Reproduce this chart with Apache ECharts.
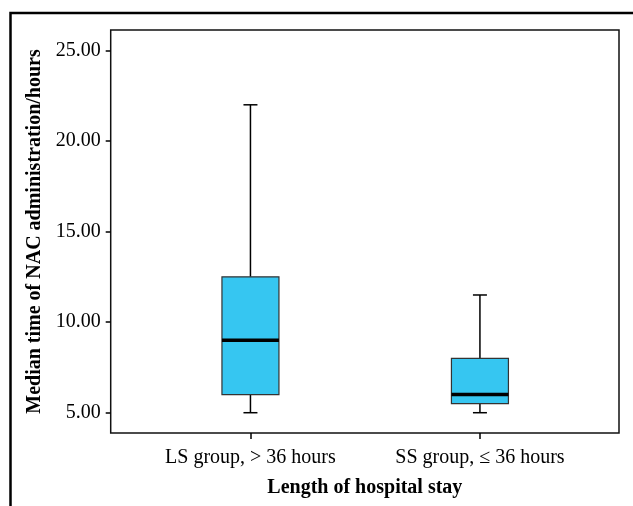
<!DOCTYPE html>
<html>
<head>
<meta charset="utf-8">
<script src="https://cdn.jsdelivr.net/npm/echarts@6/dist/echarts.min.js"></script>
<style>
html,body{margin:0;padding:0;background:#fff;}
#chart{width:633px;height:506px;}
</style>
</head>
<body>
<div id="chart"></div>
<script>
const categories = ['LS group, > 36 hours', 'SS group, \u2264 36 hours'];
const lowerWhisker = [5.0, 5.0];
const q1 = [6.0, 5.5];
const median = [9.0, 6.0];
const q3 = [12.5, 8.0];
const upperWhisker = [22.0, 11.5];
const yTicks = [5, 10, 15, 20, 25];
const xTitle = 'Length of hospital stay';
const yTitle = 'Median time of NAC administration/hours';

const FONT = '"Liberation Serif", "Times New Roman", serif';
const BOX_HALF = 28.5;
const CAP_HALF = 7;

const data = categories.map((c, i) => [i, lowerWhisker[i], q1[i], median[i], q3[i], upperWhisker[i]]);

const chart = echarts.init(document.getElementById('chart'), null, {renderer: 'canvas'});

function renderItem(params, api) {
  const x = api.value(0);
  const pLow = api.coord([x, api.value(1)]);
  const pQ1 = api.coord([x, api.value(2)]);
  const pMed = api.coord([x, api.value(3)]);
  const pQ3 = api.coord([x, api.value(4)]);
  const pHigh = api.coord([x, api.value(5)]);
  const cx = pMed[0];
  const lineStyle = {stroke: '#000', lineWidth: 1.5, fill: null};
  return {
    type: 'group',
    children: [
      {type: 'line', shape: {x1: cx, y1: pQ3[1], x2: cx, y2: pHigh[1]}, style: lineStyle},
      {type: 'line', shape: {x1: cx, y1: pQ1[1], x2: cx, y2: pLow[1]}, style: lineStyle},
      {type: 'line', shape: {x1: cx - CAP_HALF, y1: pHigh[1], x2: cx + CAP_HALF, y2: pHigh[1]}, style: lineStyle},
      {type: 'line', shape: {x1: cx - CAP_HALF, y1: pLow[1], x2: cx + CAP_HALF, y2: pLow[1]}, style: lineStyle},
      {type: 'rect', shape: {x: cx - BOX_HALF, y: pQ3[1], width: BOX_HALF * 2, height: pQ1[1] - pQ3[1]},
        style: {fill: '#36C6F1', stroke: '#333', lineWidth: 1.2}},
      {type: 'line', shape: {x1: cx - BOX_HALF, y1: pMed[1], x2: cx + BOX_HALF, y2: pMed[1]},
        style: {stroke: '#000', lineWidth: 3.5}}
    ]
  };
}

chart.setOption({
  animation: false,
  backgroundColor: '#fff',
  grid: {
    left: 110.7, right: 14, top: 30, bottom: 73,
    show: true, borderColor: '#111', borderWidth: 1.5, backgroundColor: 'transparent',
    containLabel: false, outerBoundsMode: 'none'
  },
  xAxis: {
    type: 'value', min: -0.609, max: 1.606, position: 'bottom',
    splitLine: {show: false},
    axisLine: {show: false, onZero: false},
    axisTick: {show: true, customValues: [0, 1], length: 6, lineStyle: {color: '#000', width: 1.5}},
    axisLabel: {
      show: true, customValues: [0, 1], margin: 15,
      formatter: v => categories[Math.round(v)],
      color: '#000', fontFamily: FONT, fontSize: 20
    },
    name: xTitle, nameLocation: 'middle', nameGap: 45,
    nameTextStyle: {color: '#000', fontFamily: FONT, fontSize: 20, fontWeight: 'bold'}
  },
  yAxis: {
    type: 'value', min: 3.88, max: 26.13, position: 'left',
    splitLine: {show: false},
    axisLine: {show: false, onZero: false},
    axisTick: {show: true, customValues: yTicks, length: 5, lineStyle: {color: '#000', width: 1.5}},
    axisLabel: {
      show: true, customValues: yTicks, margin: 10,
      formatter: v => Number(v).toFixed(2),
      color: '#000', fontFamily: FONT, fontSize: 20
    },
    name: yTitle, nameLocation: 'middle', nameRotate: 90, nameGap: 62,
    nameTextStyle: {color: '#000', fontFamily: FONT, fontSize: 20, fontWeight: 'bold'}
  },
  graphic: [{
    type: 'polyline', silent: true,
    shape: {points: [[10.5, 506], [10.5, 13], [633, 13]]},
    style: {stroke: '#000', lineWidth: 2.5, fill: null}
  }],
  series: [{
    type: 'custom',
    renderItem: renderItem,
    encode: {x: 0, y: [1, 2, 3, 4, 5]},
    data: data
  }]
});
</script>
</body>
</html>
